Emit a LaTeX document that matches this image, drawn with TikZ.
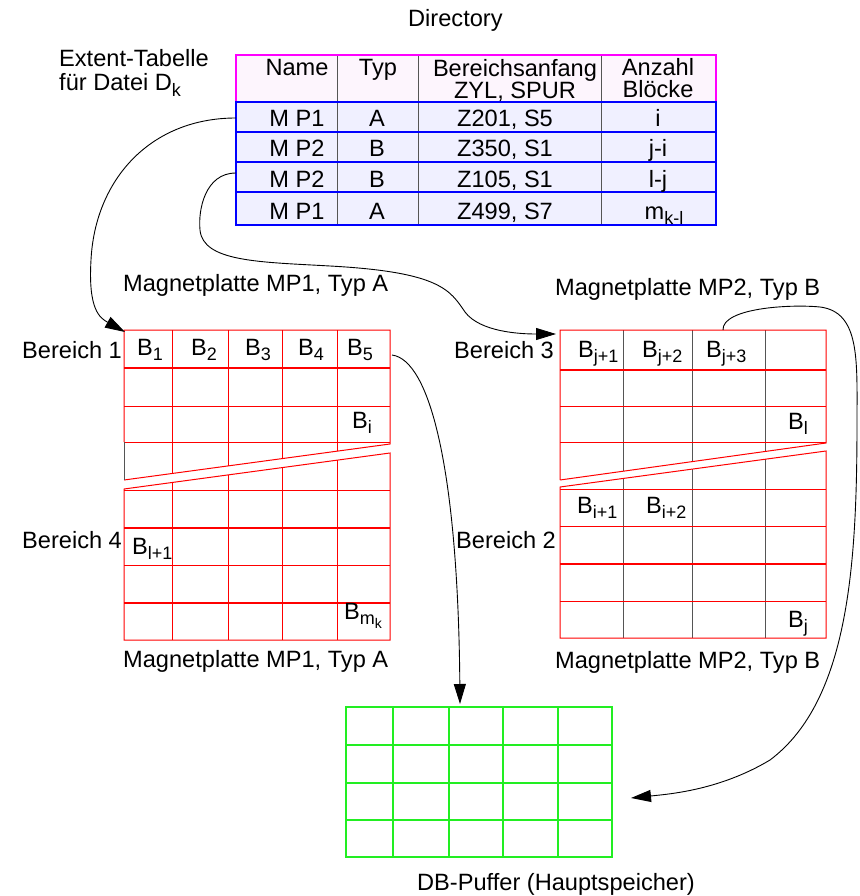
\documentclass[tikz,border=0pt]{standalone}
\usepackage{fontspec}
\setmainfont{Liberation Sans}
\usetikzlibrary{arrows.meta}
\definecolor{hdrfill}{HTML}{FDF5FD}
\definecolor{rowfill}{HTML}{F0F0FF}
\definecolor{magb}{HTML}{FF00FF}
\definecolor{blueb}{HTML}{0000FF}
\definecolor{grayl}{HTML}{555555}
\definecolor{gridred}{HTML}{FF0000}
\definecolor{gridgreen}{HTML}{22EE22}
\newcommand\Sb[1]{\raisebox{-5.5pt}{\fontsize{18}{18}\selectfont #1}}
\newcommand\Ssb[1]{\raisebox{-4pt}{\fontsize{14}{14}\selectfont #1}}
\tikzset{
  txt/.style={inner sep=0pt, anchor=base west, font=\fontsize{23.6}{20}\selectfont},
  ctxt/.style={inner sep=0pt, anchor=base, font=\fontsize{23.6}{20}\selectfont},
  hdr2/.style={inner sep=0pt, anchor=north, align=center, font=\fontsize{23.6}{20}\selectfont},
  redline/.style={draw=gridred, line width=1pt},
  redthick/.style={draw=gridred, line width=1.8pt},
  grayline/.style={draw=grayl, line width=1pt},
  greenline/.style={draw=gridgreen, line width=1.2pt},
  conn/.style={draw=black, line width=0.9pt, -{Triangle[length=20pt,width=12pt]}},
}
\begin{document}
\begin{tikzpicture}[x=1pt,y=-1pt]
\useasboundingbox (0,0) rectangle (859,896);

% ---------- Directory table ----------
\fill[hdrfill] (236,55) rectangle (716,102);
\fill[rowfill] (236,102) rectangle (716,225);
\foreach \x in {337,418,601} \draw[grayline] (\x,55) -- (\x,225);
\draw[draw=magb, line width=1.2pt] (236,102) -- (236,55) -- (716,55) -- (716,102);
\draw[draw=blueb, line width=1.2pt] (236,102) rectangle (716,225);
\foreach \y in {132,162,192} \draw[draw=blueb, line width=1.2pt] (236,\y) -- (716,\y);

\node[txt] (dir) at (408,27) {Directory};
\node[txt] (ext1) at (59,67) {Extent-Tabelle};
\node[txt] (ext2) at (59,91) {für Datei D\Sb{k}};

\node[ctxt] (hName) at (297,76) {Name};
\node[ctxt] (hTyp) at (378,76) {Typ};
\node[hdr2] (hBer) at (515,59) {Bereichsanfang\\ZYL, SPUR};
\node[hdr2, font=\fontsize{23.6}{21.5}\selectfont] (hAnz) at (658,58.5) {Anzahl\\Blöcke};

\node[ctxt] (r1a) at (297,127) {M P1};
\node[ctxt] (r1b) at (377,127) {A};
\node[ctxt] (r1c) at (505,127) {Z201, S5};
\node[ctxt] (r1d) at (658,127) {i};
\node[ctxt] (r2a) at (297,157) {M P2};
\node[ctxt] (r2b) at (377,157) {B};
\node[ctxt] (r2c) at (505,157) {Z350, S1};
\node[ctxt] (r2d) at (658,157) {j-i};
\node[ctxt] (r3a) at (297,187) {M P2};
\node[ctxt] (r3b) at (377,187) {B};
\node[ctxt] (r3c) at (505,187) {Z105, S1};
\node[ctxt] (r3d) at (658,187) {l-j};
\node[ctxt] (r4a) at (297,219) {M P1};
\node[ctxt] (r4b) at (377,219) {A};
\node[ctxt] (r4c) at (505,219) {Z499, S7};
\node[ctxt] (r4d) at (664,219) {m\Sb{k-l}};

% ---------- Magnetplatte MP1 (left grid) ----------
\begin{scope}
  \clip (124,330) -- (390,330) -- (390,444) -- (124,480) -- cycle;
  \foreach \x in {172,228,282,337} \draw[redline] (\x,330) -- (\x,490);
\end{scope}
\draw[redthick] (124,368) -- (390,368);
\draw[redline] (124,406) -- (390,406);
\draw[redline] (124,442) -- (390,442);
\draw[redline] (124,442) -- (124,330) -- (390,330) -- (390,444) -- (124,480);
\draw[grayline] (124,442) -- (124,480);

\begin{scope}
  \clip (124,489) -- (390,453) -- (390,640) -- (124,640) -- cycle;
  \foreach \x in {172,228,282,337} \draw[redline] (\x,440) -- (\x,640);
\end{scope}
\draw[redline] (124,490) -- (390,490);
\draw[redthick] (124,528) -- (390,528);
\draw[redline] (124,565) -- (390,565);
\draw[redthick] (124,603) -- (390,603);
\draw[redline] (124,489) -- (390,453) -- (390,640) -- (124,640) -- cycle;

% ---------- Magnetplatte MP2 (right grid) ----------
\begin{scope}
  \clip (560,330) -- (826,330) -- (826,443) -- (560,480) -- cycle;
  \foreach \x in {623,692,765} \draw[grayline] (\x,330) -- (\x,490);
\end{scope}
\draw[redthick] (560,370) -- (826,370);
\draw[redline] (560,406) -- (826,406);
\draw[redline] (560,442) -- (826,442);
\draw[redline] (560,480) -- (560,330) -- (826,330) -- (826,443) -- (560,480);

\begin{scope}
  \clip (560,487) -- (826,451) -- (826,638) -- (560,638) -- cycle;
  \foreach \x in {623,692,765} \draw[grayline] (\x,440) -- (\x,638);
\end{scope}
\draw[redline] (560,489) -- (826,489);
\draw[redline] (560,526) -- (826,526);
\draw[redthick] (560,564) -- (826,564);
\draw[redline] (560,601) -- (826,601);
\draw[redline] (560,487) -- (826,451) -- (826,638) -- (560,638) -- cycle;

% ---------- DB-Puffer (green grid) ----------
\draw[greenline] (346,707) rectangle (612,857);
\foreach \x in {393,449,503,558} \draw[greenline] (\x,707) -- (\x,857);
\foreach \y in {745,783,820} \draw[greenline] (346,\y) -- (612,\y);

% ---------- labels ----------
\node[txt] (mp1top) at (123,291) {Magnetplatte MP1, Typ A};
\node[txt] (mp1bot) at (123,667) {Magnetplatte MP1, Typ A};
\node[txt] (mp2top) at (555,295) {Magnetplatte MP2, Typ B};
\node[txt] (mp2bot) at (555,668) {Magnetplatte MP2, Typ B};
\node[txt] (dbp) at (417,890) {DB-Puffer (Hauptspeicher)};
\node[txt] (ber1) at (22,358) {Bereich 1};
\node[txt] (ber4) at (22,548) {Bereich 4};
\node[txt] (ber3) at (454,358) {Bereich 3};
\node[txt] (ber2) at (456,548) {Bereich 2};

\node[txt] (b1) at (137,355) {B\Sb{1}};
\node[txt] (b2) at (191,355) {B\Sb{2}};
\node[txt] (b3) at (245,355) {B\Sb{3}};
\node[txt] (b4) at (298,355) {B\Sb{4}};
\node[txt] (b5) at (347,355) {B\Sb{5}};
\node[txt] (bi) at (352,428) {B\Sb{i}};
\node[txt] (bl1) at (132,554) {B\Sb{l+1}};
\node[txt] (bmk) at (344,619) {B\Sb{m\Ssb{k}}};

\node[txt] (bj1) at (578,357) {B\Sb{j+1}};
\node[txt] (bj2) at (642,357) {B\Sb{j+2}};
\node[txt] (bj3) at (706,357) {B\Sb{j+3}};
\node[txt] (bl) at (788,429) {B\Sb{l}};
\node[txt] (bi1) at (577,513) {B\Sb{i+1}};
\node[txt] (bi2) at (646,513) {B\Sb{i+2}};
\node[txt] (bj) at (788,627) {B\Sb{j}};

% ---------- connectors ----------
\coordinate (a1s) at (236,118);
\coordinate (a1e) at (125,332);
\coordinate (a2s) at (236,173);
\coordinate (a2e) at (556,334);
\coordinate (a3s) at (392,355);
\coordinate (a3e) at (460,704);
\coordinate (a4s) at (723,330);
\coordinate (a4e) at (631,798);

\draw[conn] (a1s) .. controls (150,118) and (95,180) .. (91,260)
  .. controls (88,310) and (100,318) .. (a1e);
\draw[conn] (a2s) .. controls (205,173) and (198,210) .. (200,230)
  .. controls (203,262) and (260,262) .. (330,266)
  .. controls (440,272) and (450,290) .. (465,312)
  .. controls (480,332) and (520,334) .. (a2e);
\draw[conn] (a3s) .. controls (430,360) and (458,470) .. (a3e);
\draw[conn] (a4s) .. controls (722,308) and (790,304) .. (820,307)
  .. controls (860,312) and (857,360) .. (857,420)
  .. controls (857,560) and (850,700) .. (770,760)
  .. controls (720,790) and (670,794) .. (a4e);
\end{tikzpicture}
\end{document}
